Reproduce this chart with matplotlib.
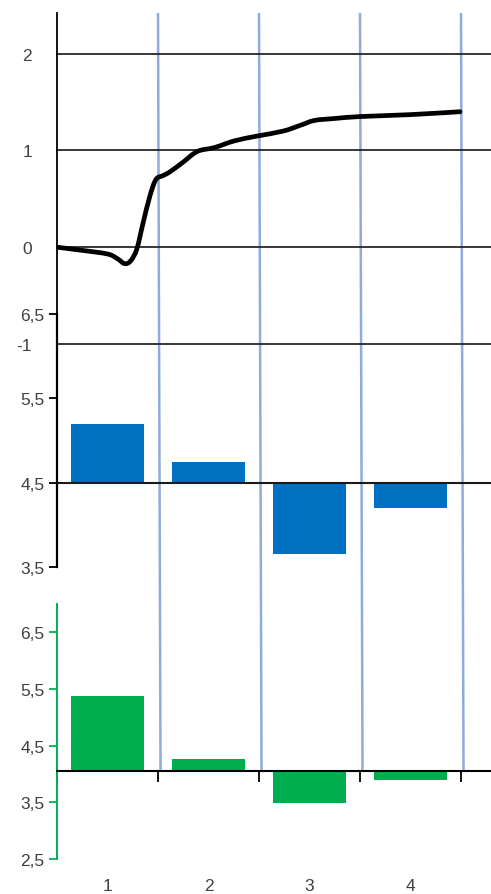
import numpy as np
import matplotlib.pyplot as plt
from matplotlib.path import Path
from matplotlib.patches import PathPatch
from matplotlib.ticker import FuncFormatter

plt.rcParams['font.family'] = ['Liberation Sans', 'DejaVu Sans']

# datos
categorias = ['1', '2', '3', '4']

# curva superior (x en unidades de categoria, 0..4)
curva_x = [0.0, 0.23, 0.50, 0.60, 0.67, 0.73, 0.79, 0.85, 0.92, 0.98, 1.05, 1.12,
           1.25, 1.39, 1.56, 1.76, 1.99, 2.24, 2.41, 2.55, 2.75, 3.00, 3.50, 3.99]
curva_y = [0.0, -0.03, -0.07, -0.12, -0.17, -0.14, -0.02, 0.24, 0.53, 0.70, 0.74, 0.78,
           0.88, 0.99, 1.03, 1.10, 1.15, 1.20, 1.26, 1.31, 1.33, 1.35, 1.37, 1.40]

barras_azul = [5.2, 4.75, 3.65, 4.2]
base_azul = 4.5

barras_verde = [5.37, 4.27, 3.49, 3.90]
base_verde = 4.05

W, H = 491, 895
fig = plt.figure(figsize=(W / 100, H / 100), dpi=100)

xmax = (W - 57) / 101
left = 57 / W
ancho = 1 - left

def caja(top_px, bottom_px):
    return [left, 1 - bottom_px / H, ancho, (bottom_px - top_px) / H]

def camino_suave(xs, ys):
    # linea suavizada como en Excel: Bezier (Catmull-Rom) entre los puntos
    p = np.column_stack([xs, ys])
    verts = [p[0]]
    codes = [Path.MOVETO]
    for i in range(len(p) - 1):
        p0 = p[i - 1] if i > 0 else p[i]
        p3 = p[i + 2] if i + 2 < len(p) else p[i + 1]
        c1 = p[i] + (p[i + 1] - p0) / 6
        c2 = p[i + 1] - (p3 - p[i]) / 6
        verts += [c1, c2, p[i + 1]]
        codes += [Path.CURVE4] * 3
    return Path(verts, codes)

coma = FuncFormatter(lambda v, p: ('%g' % v).replace('.', ','))
gris = '#404040'
azul_linea = '#8FAADC'

# capa de fondo con las lineas verticales azules
fondo = fig.add_axes(caja(14, 773))
fondo.set_xlim(0, xmax)
fondo.set_ylim(0, 1)
fondo.axis('off')
for k in range(1, 5):
    fondo.plot([k, k + 0.025], [1, 0], color=azul_linea, lw=1.8, solid_capstyle='butt')
fondo.set_zorder(0)

# panel superior: curva
ax1 = fig.add_axes(caja(14, 345))
ax1.set_facecolor('none')
ax1.set_zorder(1)
ax1.set_xlim(0, xmax)
ax1.set_ylim(-1, 2.42)
ax1.set_yticks([-1, 0, 1, 2])
ax1.yaxis.set_major_formatter(coma)
for v in [-1, 0, 1, 2]:
    ax1.axhline(v, color='#262626', lw=1.3, zorder=1, clip_on=False)
ax1.add_patch(PathPatch(camino_suave(curva_x, curva_y), facecolor='none',
                        edgecolor='black', lw=3.4, capstyle='round', zorder=3))
ax1.tick_params(axis='y', length=0, pad=18, labelsize=12.5, labelcolor=gris)
ax1.tick_params(axis='x', bottom=False, labelbottom=False)
for s in ['top', 'right', 'bottom']:
    ax1.spines[s].set_visible(False)
ax1.spines['left'].set_color('black')
ax1.spines['left'].set_linewidth(1.3)

# panel medio: barras azules
ax2 = fig.add_axes(caja(315, 568))
ax2.set_facecolor('none')
ax2.set_zorder(1)
ax2.set_xlim(0, xmax)
ax2.set_ylim(3.5, 6.5)
x = np.arange(len(categorias)) + 0.5
ax2.bar(x, np.array(barras_azul) - base_azul, bottom=base_azul, width=0.73,
        color='#0070C0', zorder=2)
ax2.axhline(base_azul, color='#1a1a1a', lw=1.5, zorder=3)
ax2.set_yticks([3.5, 4.5, 5.5, 6.5])
ax2.yaxis.set_major_formatter(coma)
ax2.tick_params(axis='y', length=6, width=1.3, color='black', labelsize=12.5,
                labelcolor=gris, pad=3)
ax2.tick_params(axis='x', bottom=False, labelbottom=False)
for s in ['top', 'right', 'bottom']:
    ax2.spines[s].set_visible(False)
ax2.spines['left'].set_linewidth(1.6)

# panel inferior: barras verdes
ax3 = fig.add_axes(caja(605, 860))
ax3.set_facecolor('none')
ax3.set_zorder(1)
ax3.set_xlim(0, xmax)
ax3.set_ylim(2.5, 7.0)
ax3.bar(x, np.array(barras_verde) - base_verde, bottom=base_verde, width=0.73,
        color='#00AD4E', zorder=2)
ax3.set_yticks([2.5, 3.5, 4.5, 5.5, 6.5])
ax3.yaxis.set_major_formatter(coma)
ax3.tick_params(axis='y', length=6, width=1.3, color='#00B050', labelsize=12.5,
                labelcolor=gris, pad=3)
ax3.spines['left'].set_color('#00B050')
ax3.spines['left'].set_linewidth(1.4)
ax3.spines['bottom'].set_position(('data', base_verde))
ax3.spines['bottom'].set_linewidth(1.5)
ax3.spines['bottom'].set_zorder(3)
for s in ['top', 'right']:
    ax3.spines[s].set_visible(False)
ax3.set_xticks([0, 1, 2, 3, 4])
ax3.tick_params(axis='x', direction='out', length=8, width=1.3, labelbottom=False)
for xi, etiqueta in zip(x, categorias):
    ax3.text(xi, -0.105, etiqueta, transform=ax3.get_xaxis_transform(),
             ha='center', va='center', fontsize=12.5, color=gris)

fig.savefig('out.png', dpi=100)
